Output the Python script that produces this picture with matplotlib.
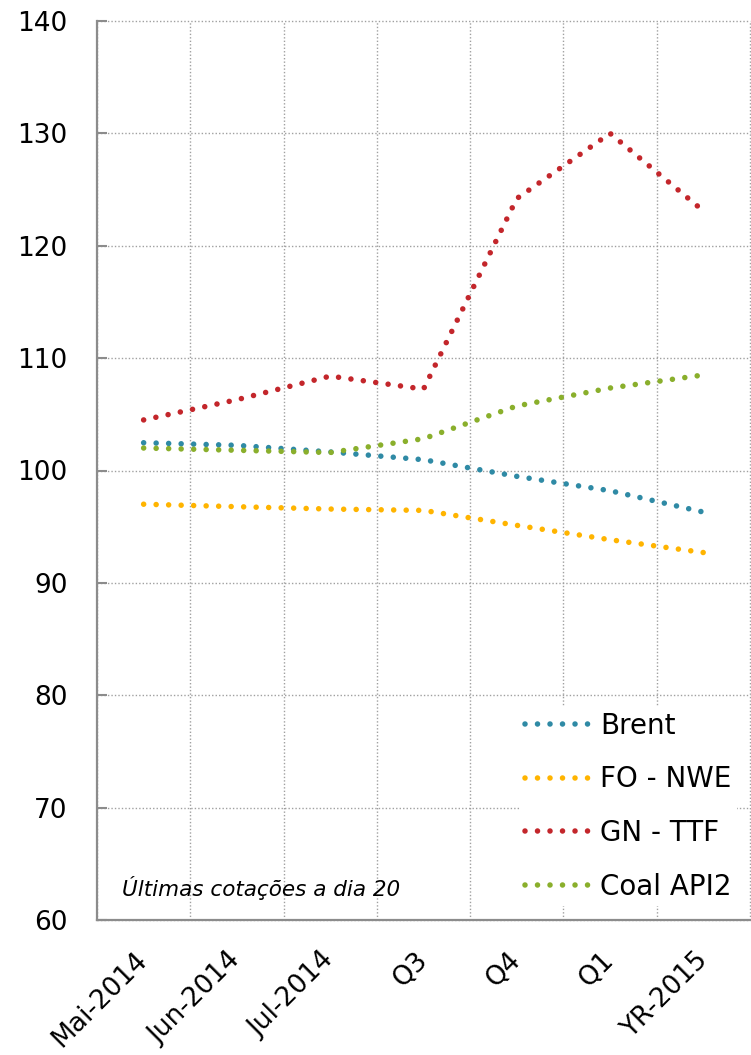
import numpy as np
import matplotlib
matplotlib.use("Agg")
import matplotlib.pyplot as plt

plt.rcParams['font.family'] = ['DejaVu Sans']

# categories and series
categories = ['Mai-2014', 'Jun-2014', 'Jul-2014', 'Q3', 'Q4', 'Q1', 'YR-2015']
brent = [102.47, 102.24, 101.65, 100.96, 99.48, 98.2, 96.3]
fo_nwe = [97.0, 96.78, 96.57, 96.45, 95.12, 93.84, 92.7]
gn_ttf = [104.5, 106.3, 108.4, 107.24, 124.2, 130.0, 123.1]
coal_api2 = [102.0, 101.8, 101.6, 102.83, 105.74, 107.34, 108.5]
y_ticks = [60, 70, 80, 90, 100, 110, 120, 130, 140]

series = [
    ('Brent', brent, '#2f8aa5'),
    ('FO - NWE', fo_nwe, '#ffb400'),
    ('GN - TTF', gn_ttf, '#c3262b'),
    ('Coal API2', coal_api2, '#8aaf2c'),
]

fig = plt.figure(figsize=(7.51, 10.55), dpi=100)
ax = fig.add_axes([97 / 751, 1 - 920 / 1055, 653 / 751, 899 / 1055])

x = np.arange(len(categories))
for name, vals, col in series:
    ax.plot(x, vals, color=col, lw=4.0, linestyle=(0, (0.001, 2.25)),
            dash_capstyle='round', label=name, zorder=3)

ax.set_xlim(-0.5, 6.5)
ax.set_ylim(60, 140)
ax.set_yticks(y_ticks)
ax.set_xticks(x)
ax.set_xticks(np.arange(-0.5, 7, 1), minor=True)
ax.set_xticklabels(categories, rotation=45, ha='right', va='center',
                   rotation_mode='anchor', fontsize=19)
ax.tick_params(axis='y', direction='in', length=7, width=1.5, color='#8c8c8c',
               pad=21, labelsize=19)
ax.tick_params(axis='x', which='both', length=0, pad=26)

ax.grid(axis='y', which='major', color='#a0a0a0', lw=1.0, linestyle=(0, (1, 1.5)))
ax.grid(axis='x', which='minor', color='#a0a0a0', lw=1.0, linestyle=(0, (1, 1.5)))
for tk in ax.xaxis.get_minor_ticks() + ax.yaxis.get_major_ticks():
    tk.gridline.set_clip_on(False)

for s in ['top', 'right']:
    ax.spines[s].set_visible(False)
for s in ['left', 'bottom']:
    ax.spines[s].set_color('#8c8c8c')
    ax.spines[s].set_linewidth(1.6)
    ax.spines[s].set_zorder(7)

leg = ax.legend(loc='lower right', bbox_to_anchor=(1.002, 0.0), fontsize=20,
                frameon=True, fancybox=False, handlelength=2.4,
                handletextpad=0.3, labelspacing=0.92, borderpad=0.2)
leg.get_frame().set_facecolor('white')
leg.get_frame().set_edgecolor('none')
leg.get_frame().set_alpha(1)
leg.set_zorder(5)

ax.text(0.038, 0.036, 'Últimas cotações a dia 20', transform=ax.transAxes,
        fontsize=15.5, style='italic', ha='left', va='center', zorder=6)

fig.savefig('out.png', dpi=100)
